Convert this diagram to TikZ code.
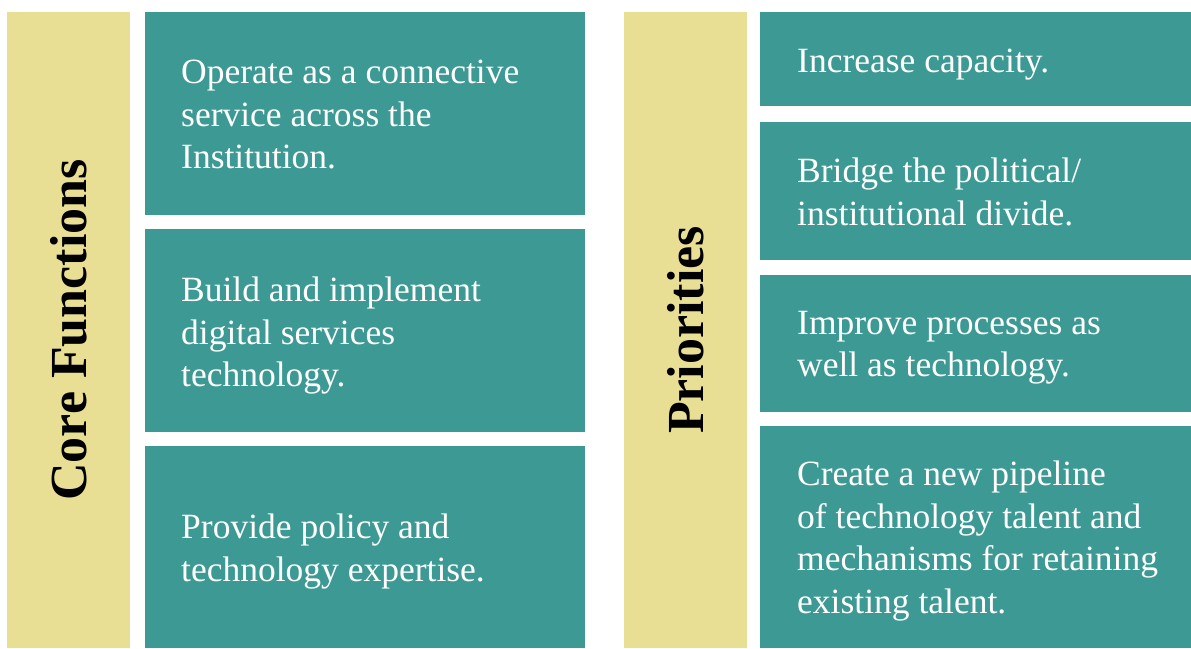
\documentclass[tikz,border=0pt]{standalone}
\usepackage{fontspec}
\setmainfont{Liberation Serif}
\begin{document}
\definecolor{sand}{RGB}{232,223,148}
\definecolor{teal}{RGB}{61,153,148}
\begin{tikzpicture}[x=1pt,y=-1pt,
  band/.style={fill=sand,draw=none},
  tile/.style={fill=teal,draw=none},
  heading/.style={rotate=90,font=\fontsize{52}{60}\selectfont\bfseries,text=black,inner sep=0pt},
  tiletext/.style={anchor=north west,align=left,inner sep=0pt,text=white,
    font=\fontsize{35.5}{42.5}\selectfont}]
\useasboundingbox (0,0) rectangle (1191,648);
\fill[white] (0,0) rectangle (1191,648);
% left column: heading band and three tiles
\fill[band] (7,12) rectangle (130,648);
\fill[tile] (145,12) rectangle (585,215);
\fill[tile] (145,229) rectangle (585,432);
\fill[tile] (145,446) rectangle (585,648);
% right column: heading band and four tiles
\fill[band] (624,12) rectangle (747,648);
\fill[tile] (760,12) rectangle (1191,106);
\fill[tile] (760,122) rectangle (1191,260);
\fill[tile] (760,275) rectangle (1191,412);
\fill[tile] (760,426) rectangle (1191,648);
% headings
\node[heading] (core) at (69,330) {Core Functions};
\node[heading] (prio) at (686,330) {Priorities};
% tile texts
\node[tiletext] (c1) at (181,60) {Operate as a connective\\service across the\\Institution.};
\node[tiletext] (c2) at (181,277) {Build and implement\\digital services\\technology.};
\node[tiletext] (c3) at (181,514) {Provide policy and\\technology expertise.};
\node[tiletext] (p1) at (797,49) {Increase capacity.};
\node[tiletext] (p2) at (797,158) {Bridge the political/\\institutional divide.};
\node[tiletext] (p3) at (797,311) {Improve processes as\\well as technology.};
\node[tiletext] (p4) at (797,461) {Create a new pipeline\\of technology talent and\\mechanisms for retaining\\existing talent.};
\end{tikzpicture}
\end{document}
